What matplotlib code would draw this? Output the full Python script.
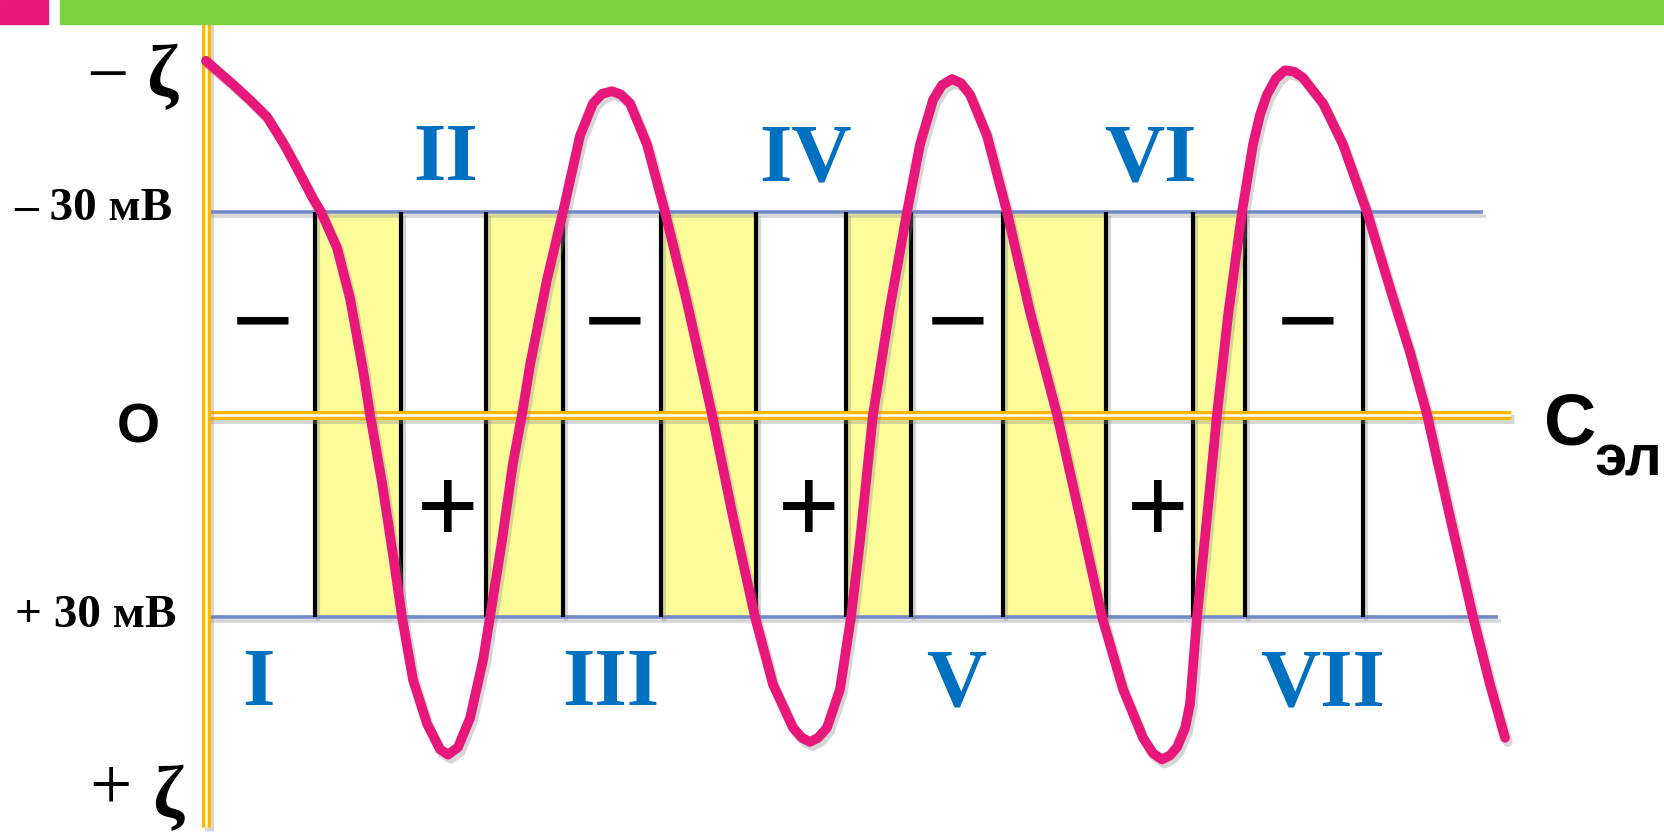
import matplotlib
matplotlib.use("Agg")
import matplotlib.pyplot as plt
import matplotlib.patheffects as pe
from matplotlib.patches import Rectangle

# electrolyte concentration (arb. units) vs zeta potential (mV)
conc = [0.00, 0.27, 0.44, 0.61, 0.77, 0.87, 1.07, 1.15, 1.31, 1.44, 1.57, 1.64, 1.76, 1.87,
        1.96, 2.07, 2.21, 2.34, 2.42, 2.52, 2.64, 2.77, 2.84, 2.96, 3.07, 3.16, 3.24, 3.41,
        3.57, 3.74, 3.87, 3.96, 4.06, 4.15, 4.24, 4.41, 4.59, 4.81, 5.06, 5.27, 5.49,
        5.67, 5.87, 5.96, 6.04, 6.12, 6.21, 6.34, 6.45, 6.54, 6.67, 6.84, 7.01, 7.14,
        7.27, 7.36, 7.46, 7.55, 7.64, 7.81, 8.01, 8.24, 8.51, 8.74, 8.96, 9.17, 9.37,
        9.47, 9.56, 9.64, 9.71, 9.79, 9.84, 9.91, 10.01, 10.11, 10.22, 10.36, 10.47,
        10.54, 10.61, 10.70, 10.79, 10.88, 10.97, 11.17, 11.37, 11.61, 11.84, 12.04,
        12.21, 12.44, 12.67, 12.84, 12.99]
zeta = [-52.4, -48.9, -46.6, -44.1, -40.3, -37.6, -32.0, -30.0, -24.7, -17.2, -6.6, 0.0, 10.1,
        20.8, 30.0, 39.3, 45.8, 49.6, 50.4, 49.3, 45.0, 36.4, 30.0, 18.7, 7.2, 0.0, -7.3, -20.0,
        -30.0, -41.3, -46.1, -47.5, -47.9, -47.4, -46.1, -40.0, -30.0, -16.6, 0.0, 15.2, 30.0,
        40.0, 46.4, 47.9, 48.5, 47.9, 46.4, 40.7, 30.0, 18.7, 0.0, -15.9, -30.0, -40.0,
        -46.6, -48.8, -49.7, -49.1, -47.4, -41.3, -30.0, -15.2, 0.0, 15.2, 30.0, 40.7, 47.9,
        50.2, 51.1, 50.5, 49.3, 46.5, 42.9, 30.0, 15.2, 0.0, -14.6, -30.0, -40.0,
        -44.4, -47.4, -49.8, -51.0, -50.8, -49.9, -46.1, -40.0, -30.0, -18.7, -9.2,
        0.0, 15.2, 30.0, 40.0, 47.9]

threshold = 30  # mV, critical potential

# concentrations where the curve crosses the +/-30 mV levels
borders = [1.09, 1.95, 2.80, 3.57, 4.55, 5.50, 6.40, 7.05, 7.97, 9.00, 9.87, 10.39, 11.57]
unstable = [True, False] * 6  # yellow zone between borders[i] and borders[i+1]

roman = ["I", "II", "III", "IV", "V", "VI", "VII"]
roman_x = [0.52, 2.40, 4.05, 6.00, 7.50, 9.44, 11.17]
roman_top = [False, True, False, True, False, True, False]

signs = ["\u2212", "+", "\u2212", "+", "\u2212", "+", "\u2212"]
signs_x = [0.57, 2.42, 4.09, 6.03, 7.52, 9.52, 11.02]

PINK = "#E8177C"
BLUE_LINE = "#7089C8"
ORANGE = "#FFB600"
YELLOW = "#FCFC99"
ROMAN_BLUE = "#0070C0"

fig = plt.figure(figsize=(16.64, 8.33), dpi=100)
ax = fig.add_axes([0, 0, 1, 1])
ax.set_xlim(-2.06, 14.58)
ax.set_ylim(62.0, -61.41)
ax.axis("off")

# slide header bars
fig.patches.append(Rectangle((0, 1 - 0.0288), 0.0288, 0.0288, transform=fig.transFigure,
                             color=PINK, zorder=0))
fig.patches.append(Rectangle((0.036, 1 - 0.0288), 0.964, 0.0288, transform=fig.transFigure,
                             color="#7ED33D", zorder=0))

shadow = [pe.SimpleLineShadow(offset=(2, -3), shadow_color="0.55", alpha=0.35), pe.Normal()]

# yellow zones
for i, fill in enumerate(unstable):
    if fill:
        ax.add_patch(Rectangle((borders[i], -threshold), borders[i + 1] - borders[i], 2 * threshold,
                               facecolor=YELLOW, edgecolor="#4E7D2A", lw=1.2, zorder=1))

# critical potential lines
ax.plot([0.01, 12.75], [-threshold, -threshold], color=BLUE_LINE, lw=2.6, zorder=2,
        path_effects=shadow)
ax.plot([0.01, 12.90], [threshold, threshold], color=BLUE_LINE, lw=2.6, zorder=2,
        path_effects=shadow)

# zone borders
ax.vlines(borders, -threshold, threshold, color="black", lw=3, zorder=3,
          path_effects=shadow)

# axes as double orange lines
for xs, ys in [([0.01, 13.05], [0, 0]), ([0, 0], [-60.4, 61.1])]:
    ax.plot(xs, ys, color=ORANGE, lw=6.5, zorder=4, solid_capstyle="butt",
            path_effects=shadow)
    ax.plot(xs, ys, color="white", lw=1.8, zorder=4, solid_capstyle="butt")

# zeta potential curve
ax.plot(conc, zeta, color=PINK, lw=7, zorder=6, solid_capstyle="round",
        solid_joinstyle="round", path_effects=shadow)

# zone numbers
for lab, x, top in zip(roman, roman_x, roman_top):
    ax.text(x, -34.7 if top else 43.1, lab, color=ROMAN_BLUE, fontsize=60,
            fontfamily="Liberation Serif", fontweight="bold", ha="center", va="baseline",
            zorder=7)

# charge signs
for s, x in zip(signs, signs_x):
    ax.text(x, -8.8 if s != "+" else 18.7, s, fontsize=76, fontfamily="Liberation Sans",
            ha="center", va="baseline", zorder=7)

# left labels
serif = "Liberation Serif"
ax.text(-0.99, -46.9, "\u2212", fontsize=54, fontfamily=serif, ha="center", va="baseline")
ax.text(-0.29, -47.2, "\u03b6", fontsize=54, fontfamily=serif, fontweight="bold",
        ha="right", va="baseline")
ax.text(-0.96, 58.4, "+", fontsize=54, fontfamily=serif, ha="center", va="baseline")
ax.text(-0.23, 59.6, "\u03b6", fontsize=54, fontfamily=serif, fontweight="bold",
        ha="right", va="baseline")
ax.text(-0.33, -28.8, "\u2013 30 мВ", fontsize=34, fontfamily=serif, fontweight="bold",
        ha="right", va="baseline")
ax.text(-0.29, 31.5, "+ 30 мВ", fontsize=34, fontfamily=serif, fontweight="bold",
        ha="right", va="baseline")
ax.text(-0.68, 4.2, "O", fontsize=40, fontfamily="Liberation Sans", fontweight="bold",
        ha="center", va="baseline")

# right label
ax.text(13.38, 4.4, "С", fontsize=52, fontfamily="Liberation Sans", fontweight="bold",
        ha="left", va="baseline")
ax.text(13.88, 9.1, "эл", fontsize=42, fontfamily="Liberation Sans", fontweight="bold",
        ha="left", va="baseline")

fig.savefig("out.png", dpi=100, facecolor="white")
